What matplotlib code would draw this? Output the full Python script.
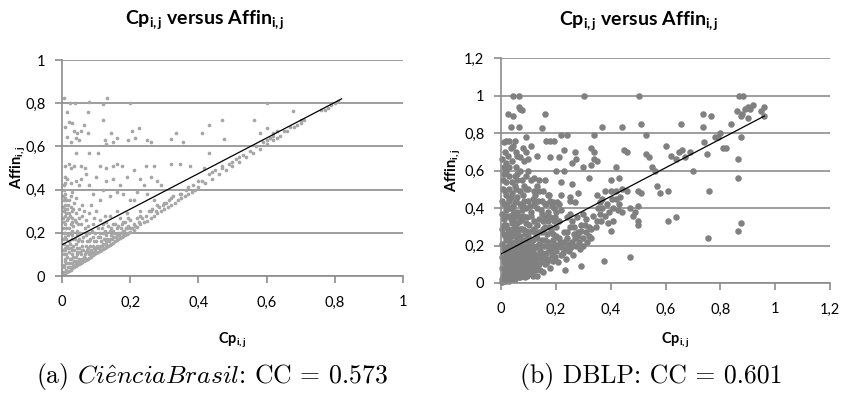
import matplotlib
matplotlib.use("Agg")
import matplotlib.pyplot as plt

plt.rcParams['font.family'] = ['Lato', 'DejaVu Sans']
plt.rcParams['mathtext.fontset'] = 'custom'
plt.rcParams['mathtext.rm'] = 'Lato'
plt.rcParams['mathtext.bf'] = 'Lato:bold'
plt.rcParams['mathtext.it'] = 'Lato:italic'

# ---------------- Data: panel (a) CiênciaBrasil ----------------
a_x = [
    0.005, 0.01, 0.012, 0.015, 0.02, 0.022, 0.025, 0.03, 0.032, 0.035, 0.04, 0.042, 0.045, 0.05, 0.052,
    0.055, 0.06, 0.065, 0.068, 0.07, 0.075, 0.08, 0.082, 0.085, 0.09, 0.095, 0.1, 0.105, 0.11, 0.115,
    0.12, 0.125, 0.13, 0.135, 0.14, 0.145, 0.15, 0.155, 0.16, 0.165, 0.17, 0.175, 0.18, 0.185, 0.19,
    0.195, 0.2, 0.21, 0.22, 0.23, 0.24, 0.25, 0.26, 0.27, 0.28, 0.29, 0.3, 0.31, 0.32, 0.33, 0.34, 0.35,
    0.36, 0.37, 0.38, 0.39, 0.4, 0.42, 0.44, 0.46, 0.48, 0.5, 0.52, 0.54, 0.56, 0.58, 0.6, 0.62, 0.64,
    0.66, 0.68, 0.7, 0.77, 0.79, 0.8, 0.81,
    0.23, 0.26, 0.28, 0.3, 0.32, 0.35, 0.37, 0.4, 0.43, 0.45, 0.47, 0.5, 0.52, 0.55, 0.57, 0.6, 0.62,
    0.65, 0.7, 0.78,
    0.005, 0.005, 0.005, 0.005, 0.01, 0.01, 0.01, 0.015, 0.015, 0.02, 0.02, 0.02, 0.02, 0.025, 0.025,
    0.03, 0.03, 0.03, 0.035, 0.035, 0.04, 0.04, 0.045, 0.045, 0.05, 0.05, 0.05, 0.055, 0.06, 0.06,
    0.065, 0.07, 0.07, 0.07, 0.075, 0.08, 0.08, 0.085, 0.09, 0.09, 0.095, 0.1, 0.1, 0.11, 0.11, 0.12,
    0.12, 0.13, 0.13, 0.14, 0.15, 0.15, 0.16, 0.17, 0.18, 0.19, 0.16, 0.14,
    0.005, 0.005, 0.005, 0.005, 0.01, 0.01, 0.01, 0.015, 0.015, 0.02, 0.02, 0.025, 0.025, 0.025, 0.03,
    0.03, 0.035, 0.04, 0.04, 0.04, 0.05, 0.05, 0.055, 0.06, 0.06, 0.065, 0.07, 0.075, 0.08, 0.085, 0.09,
    0.095, 0.1, 0.105, 0.11, 0.12, 0.125, 0.13, 0.14, 0.15, 0.16, 0.17, 0.18, 0.19, 0.2, 0.21, 0.22,
    0.23, 0.21,
    0.005, 0.01, 0.015, 0.025, 0.03, 0.04, 0.05, 0.055, 0.07, 0.08, 0.09, 0.1, 0.11, 0.12, 0.13, 0.14,
    0.15, 0.16, 0.17, 0.18, 0.19, 0.2, 0.22, 0.23, 0.24, 0.25, 0.26, 0.27, 0.28, 0.29,
    0.01, 0.02, 0.025, 0.035, 0.04, 0.055, 0.068, 0.078, 0.105, 0.11, 0.13, 0.15, 0.16, 0.175, 0.21,
    0.245, 0.27, 0.32, 0.345, 0.375, 0.43, 0.415,
    0.01, 0.015, 0.02, 0.025, 0.03, 0.035, 0.04, 0.045, 0.05, 0.055, 0.065, 0.075, 0.12, 0.125, 0.13,
    0.145, 0.15, 0.16, 0.195, 0.205, 0.215, 0.225, 0.25, 0.26, 0.32, 0.335, 0.355, 0.41, 0.43, 0.47,
    0.475, 0.563, 0.58, 0.6, 0.62, 0.63, 0.678,
    0.007, 0.015, 0.024, 0.039, 0.075, 0.08, 0.12, 0.132, 0.2, 0.6,
]
a_y = [
    0.01, 0.015, 0.03, 0.02, 0.025, 0.04, 0.03, 0.035, 0.05, 0.04, 0.045, 0.06, 0.05, 0.055, 0.07,
    0.06, 0.065, 0.07, 0.085, 0.075, 0.08, 0.085, 0.1, 0.09, 0.095, 0.1, 0.105, 0.11, 0.115, 0.12,
    0.125, 0.13, 0.135, 0.14, 0.145, 0.15, 0.155, 0.16, 0.165, 0.17, 0.175, 0.18, 0.185, 0.19, 0.195,
    0.2, 0.205, 0.215, 0.225, 0.24, 0.25, 0.255, 0.27, 0.28, 0.29, 0.3, 0.31, 0.32, 0.33, 0.34, 0.35, 0.36,
    0.37, 0.38, 0.39, 0.4, 0.41, 0.43, 0.45, 0.47, 0.49, 0.51, 0.53, 0.55, 0.57, 0.59, 0.61, 0.63, 0.65,
    0.67, 0.69, 0.71, 0.77, 0.79, 0.8, 0.81,
    0.28, 0.30, 0.33, 0.34, 0.36, 0.38, 0.41, 0.44, 0.47, 0.49, 0.51, 0.53, 0.55, 0.58, 0.6, 0.63, 0.65,
    0.67, 0.72, 0.78,
    0.05, 0.1, 0.15, 0.2, 0.07, 0.12, 0.18, 0.09, 0.14, 0.06, 0.11, 0.16, 0.22, 0.08, 0.13,
    0.1, 0.17, 0.21, 0.07, 0.12, 0.09, 0.15, 0.11, 0.19, 0.08, 0.13, 0.17, 0.1, 0.12, 0.16,
    0.09, 0.11, 0.14, 0.19, 0.13, 0.1, 0.16, 0.12, 0.14, 0.18, 0.11, 0.13, 0.16, 0.14, 0.18, 0.15,
    0.2, 0.16, 0.19, 0.17, 0.18, 0.21, 0.19, 0.2, 0.21, 0.22, 0.22, 0.21,
    0.25, 0.3, 0.35, 0.4, 0.28, 0.33, 0.38, 0.26, 0.31, 0.29, 0.35, 0.24, 0.32, 0.37, 0.27,
    0.3, 0.34, 0.25, 0.29, 0.36, 0.27, 0.31, 0.24, 0.28, 0.33, 0.3, 0.26, 0.23, 0.29, 0.33, 0.24,
    0.27, 0.3, 0.22, 0.26, 0.24, 0.28, 0.25, 0.28, 0.24, 0.3, 0.27, 0.25, 0.29, 0.26, 0.24, 0.27,
    0.3, 0.35,
    0.42, 0.46, 0.45, 0.43, 0.39, 0.44, 0.42, 0.45, 0.47, 0.42, 0.38, 0.46, 0.35, 0.4, 0.44, 0.37,
    0.45, 0.39, 0.42, 0.38, 0.46, 0.35, 0.39, 0.45, 0.42, 0.38, 0.46, 0.35, 0.44, 0.42,
    0.51, 0.52, 0.5, 0.51, 0.57, 0.51, 0.5, 0.57, 0.57, 0.51, 0.5, 0.51, 0.52, 0.51, 0.49,
    0.51, 0.51, 0.52, 0.52, 0.51, 0.57, 0.5,
    0.69, 0.645, 0.715, 0.62, 0.71, 0.67, 0.64, 0.66, 0.63, 0.67, 0.7, 0.66, 0.72, 0.63, 0.61,
    0.66, 0.62, 0.64, 0.63, 0.67, 0.64, 0.685, 0.63, 0.62, 0.635, 0.66, 0.62, 0.66, 0.7, 0.72,
    0.634, 0.72, 0.66, 0.684, 0.66, 0.64, 0.764,
    0.826, 0.76, 0.80, 0.80, 0.76, 0.807, 0.796, 0.823, 0.80, 0.80,
]
a_extra = [
    (0.003, 0.02), (0.006, 0.04), (0.008, 0.08), (0.012, 0.06), (0.018, 0.04), (0.022, 0.08),
    (0.028, 0.06), (0.033, 0.09), (0.038, 0.07), (0.043, 0.1), (0.048, 0.07), (0.053, 0.11),
    (0.058, 0.08), (0.063, 0.12), (0.068, 0.1), (0.073, 0.12), (0.078, 0.11), (0.083, 0.14),
    (0.088, 0.11), (0.093, 0.13), (0.098, 0.12), (0.103, 0.14), (0.108, 0.13), (0.113, 0.16),
    (0.118, 0.14), (0.123, 0.17), (0.128, 0.15), (0.133, 0.17), (0.138, 0.16), (0.143, 0.19),
    (0.148, 0.17), (0.153, 0.2), (0.158, 0.18), (0.163, 0.2), (0.168, 0.19), (0.173, 0.22),
    (0.178, 0.2), (0.183, 0.21), (0.188, 0.22), (0.193, 0.23), (0.198, 0.22),
    (0.003, 0.12), (0.003, 0.17), (0.003, 0.22), (0.003, 0.27), (0.003, 0.32), (0.003, 0.37),
    (0.008, 0.13), (0.008, 0.2), (0.008, 0.24), (0.008, 0.31), (0.008, 0.36), (0.008, 0.43),
    (0.013, 0.1), (0.013, 0.17), (0.013, 0.22), (0.013, 0.29), (0.013, 0.35), (0.018, 0.13),
    (0.018, 0.19), (0.018, 0.27), (0.018, 0.33), (0.023, 0.15), (0.023, 0.2), (0.023, 0.28),
    (0.028, 0.12), (0.028, 0.19), (0.028, 0.25), (0.033, 0.14), (0.033, 0.23), (0.033, 0.31),
    (0.038, 0.17), (0.038, 0.26), (0.043, 0.13), (0.043, 0.21), (0.048, 0.16), (0.048, 0.24),
    (0.053, 0.2), (0.058, 0.14), (0.063, 0.18), (0.068, 0.22), (0.073, 0.16), (0.078, 0.2),
    (0.083, 0.17), (0.088, 0.21), (0.093, 0.16), (0.098, 0.2), (0.105, 0.18), (0.112, 0.2),
    (0.118, 0.22), (0.125, 0.21), (0.135, 0.23), (0.145, 0.22), (0.155, 0.24), (0.165, 0.23),
    (0.175, 0.24), (0.185, 0.25), (0.195, 0.27), (0.205, 0.22), (0.215, 0.23), (0.225, 0.25),
    (0.235, 0.27), (0.245, 0.28), (0.255, 0.3), (0.265, 0.31), (0.275, 0.3), (0.285, 0.32),
    (0.295, 0.33), (0.305, 0.34), (0.315, 0.35), (0.325, 0.37), (0.345, 0.38), (0.365, 0.4),
    (0.385, 0.42), (0.41, 0.44), (0.44, 0.48), (0.47, 0.5), (0.49, 0.52), (0.51, 0.54),
    (0.53, 0.56), (0.59, 0.62), (0.61, 0.64), (0.63, 0.67), (0.67, 0.69), (0.69, 0.7),
    (0.71, 0.72), (0.76, 0.77),
]
a_x = a_x + [p[0] for p in a_extra]
a_y = a_y + [p[1] for p in a_extra]
a_trend_x = [0.0, 0.82]
a_trend_y = [0.145, 0.82]

# ---------------- Data: panel (b) DBLP ----------------
b_pts = [
    (0.045, 1.0), (0.067, 1.0), (0.304, 1.0), (0.504, 1.0), (0.868, 1.0), (0.884, 1.0),
    (0.027, 0.903), (0.045, 0.89), (0.065, 0.94), (0.07, 0.93), (0.075, 0.925), (0.16, 0.9),
    (0.035, 0.83), (0.065, 0.83), (0.149, 0.827), (0.09, 0.78), (0.02, 0.76), (0.03, 0.76), (0.05, 0.76),
    (0.165, 0.76), (0.18, 0.76), (0.195, 0.76), (0.22, 0.79), (0.24, 0.79), (0.11, 0.73), (0.08, 0.72),
    (0.035, 0.72), (0.055, 0.7), (0.06, 0.68), (0.1, 0.66), (0.13, 0.68), (0.18, 0.67), (0.21, 0.67),
    (0.23, 0.71), (0.27, 0.7), (0.275, 0.66), (0.26, 0.64), (0.3, 0.62), (0.23, 0.6), (0.2, 0.6),
    (0.16, 0.55), (0.22, 0.54), (0.26, 0.53), (0.02, 0.64), (0.005, 0.66), (0.01, 0.62), (0.01, 0.58),
    (0.03, 0.57), (0.05, 0.57), (0.04, 0.54), (0.02, 0.54), (0.1, 0.6), (0.07, 0.6), (0.06, 0.55),
    (0.11, 0.55), (0.12, 0.49), (0.14, 0.49), (0.155, 0.49), (0.17, 0.47), (0.16, 0.42), (0.19, 0.43),
    (0.21, 0.42), (0.22, 0.39), (0.25, 0.44), (0.27, 0.43), (0.28, 0.48), (0.32, 0.56), (0.33, 0.63),
    (0.34, 0.66), (0.35, 0.65), (0.33, 0.72), (0.34, 0.79), (0.37, 0.83), (0.34, 0.7), (0.44, 0.83),
    (0.45, 0.71), (0.46, 0.7), (0.42, 0.62), (0.43, 0.56), (0.4, 0.55), (0.38, 0.49), (0.4, 0.49),
    (0.42, 0.49), (0.46, 0.49), (0.5, 0.49), (0.51, 0.48), (0.44, 0.38), (0.47, 0.4), (0.48, 0.36),
    (0.49, 0.38), (0.5, 0.41), (0.5, 0.31), (0.5, 0.33), (0.51, 0.85), (0.53, 0.79), (0.53, 0.69),
    (0.54, 0.67), (0.55, 0.62), (0.56, 0.6), (0.57, 0.52), (0.58, 0.48), (0.6, 0.73), (0.62, 0.68),
    (0.64, 0.66), (0.65, 0.7), (0.66, 0.71), (0.67, 0.67), (0.69, 0.7), (0.7, 0.6), (0.61, 0.49),
    (0.61, 0.33), (0.64, 0.35), (0.655, 0.85), (0.735, 0.9), (0.735, 0.83), (0.74, 0.75), (0.75, 0.69),
    (0.76, 0.49), (0.755, 0.24), (0.765, 0.89), (0.78, 0.78), (0.79, 0.78), (0.8, 0.8), (0.81, 0.72),
    (0.82, 0.72), (0.84, 0.85), (0.86, 0.92), (0.865, 0.66), (0.865, 0.56), (0.865, 0.28), (0.875, 0.32),
    (0.875, 0.78), (0.875, 0.89), (0.88, 0.9), (0.89, 0.93), (0.9, 0.94), (0.91, 0.93), (0.92, 0.95),
    (0.95, 0.92), (0.96, 0.94), (0.96, 0.89), (0.9, 0.88), (0.47, 0.14), (0.375, 0.12), (0.29, 0.09),
    (0.235, 0.07), (0.13, 0.04), (0.3, 0.2), (0.32, 0.25), (0.33, 0.29), (0.35, 0.33), (0.36, 0.37),
    (0.37, 0.4), (0.38, 0.36), (0.39, 0.32), (0.4, 0.28), (0.41, 0.33), (0.42, 0.45), (0.43, 0.42),
    (0.44, 0.5), (0.36, 0.43), (0.35, 0.47), (0.3, 0.37), (0.31, 0.34), (0.29, 0.31), (0.28, 0.27),
    (0.27, 0.24), (0.26, 0.33), (0.25, 0.3), (0.24, 0.27), (0.23, 0.22), (0.22, 0.19), (0.21, 0.24),
    (0.2, 0.17), (0.2, 0.3), (0.19, 0.26), (0.18, 0.2), (0.18, 0.35), (0.17, 0.13), (0.17, 0.38),
    (0.16, 0.23), (0.16, 0.3), (0.15, 0.16), (0.15, 0.27), (0.14, 0.1), (0.14, 0.2), (0.14, 0.34),
    (0.13, 0.24), (0.13, 0.4), (0.12, 0.08), (0.12, 0.15), (0.12, 0.29), (0.11, 0.12), (0.11, 0.21),
    (0.11, 0.36), (0.1, 0.05), (0.1, 0.18), (0.1, 0.27), (0.1, 0.44), (0.09, 0.09), (0.09, 0.14),
    (0.09, 0.23), (0.09, 0.32), (0.09, 0.4), (0.08, 0.06), (0.08, 0.12), (0.08, 0.2), (0.08, 0.29),
    (0.08, 0.36), (0.08, 0.47), (0.07, 0.03), (0.07, 0.1), (0.07, 0.16), (0.07, 0.25), (0.07, 0.33),
    (0.07, 0.42), (0.06, 0.05), (0.06, 0.13), (0.06, 0.19), (0.06, 0.27), (0.06, 0.38), (0.06, 0.46),
    (0.05, 0.02), (0.05, 0.08), (0.05, 0.15), (0.05, 0.22), (0.05, 0.3), (0.05, 0.35), (0.05, 0.43),
    (0.04, 0.04), (0.04, 0.11), (0.04, 0.18), (0.04, 0.25), (0.04, 0.32), (0.04, 0.4), (0.03, 0.01),
    (0.03, 0.07), (0.03, 0.13), (0.03, 0.2), (0.03, 0.28), (0.03, 0.36), (0.03, 0.45), (0.02, 0.03),
    (0.02, 0.09), (0.02, 0.16), (0.02, 0.23), (0.02, 0.31), (0.02, 0.39), (0.02, 0.47), (0.01, 0.01),
    (0.01, 0.05), (0.01, 0.11), (0.01, 0.18), (0.01, 0.26), (0.01, 0.34), (0.01, 0.42), (0.005, 0.02),
    (0.005, 0.08), (0.005, 0.14), (0.005, 0.21), (0.005, 0.29), (0.005, 0.37), (0.005, 0.44),
    (0.015, 0.06), (0.015, 0.14), (0.025, 0.05), (0.025, 0.12), (0.035, 0.09), (0.035, 0.16),
    (0.045, 0.06), (0.045, 0.13), (0.055, 0.1), (0.055, 0.17), (0.065, 0.08), (0.065, 0.14),
    (0.075, 0.07), (0.075, 0.13), (0.085, 0.1), (0.085, 0.16), (0.095, 0.07), (0.095, 0.12),
    (0.105, 0.09), (0.105, 0.15), (0.115, 0.1), (0.125, 0.12), (0.135, 0.14), (0.145, 0.13),
    (0.155, 0.12), (0.165, 0.16), (0.175, 0.18), (0.185, 0.15), (0.195, 0.21), (0.205, 0.2),
    (0.215, 0.22), (0.225, 0.16), (0.245, 0.21), (0.255, 0.19), (0.265, 0.26), (0.285, 0.22),
    (0.24, 0.35), (0.2, 0.38), (0.15, 0.44), (0.12, 0.42), (0.22, 0.47), (0.18, 0.44), (0.25, 0.46),
]
b_extra = [
    (0.012, 0.02), (0.018, 0.07), (0.022, 0.12), (0.028, 0.17), (0.032, 0.22), (0.038, 0.27),
    (0.042, 0.33), (0.048, 0.38), (0.052, 0.04), (0.058, 0.09), (0.062, 0.15), (0.068, 0.2),
    (0.072, 0.29), (0.078, 0.34), (0.082, 0.41), (0.088, 0.03), (0.092, 0.18), (0.098, 0.25),
    (0.102, 0.31), (0.108, 0.38), (0.112, 0.06), (0.118, 0.23), (0.122, 0.33), (0.128, 0.19),
    (0.132, 0.09), (0.138, 0.27), (0.142, 0.17), (0.148, 0.37), (0.152, 0.06), (0.158, 0.2),
    (0.162, 0.1), (0.168, 0.26), (0.172, 0.33), (0.178, 0.08), (0.182, 0.28), (0.188, 0.12),
    (0.192, 0.4), (0.198, 0.14), (0.202, 0.25), (0.208, 0.11), (0.212, 0.33), (0.218, 0.15),
    (0.228, 0.27), (0.232, 0.18), (0.238, 0.13), (0.242, 0.24), (0.248, 0.17), (0.252, 0.37),
    (0.258, 0.22), (0.262, 0.15), (0.268, 0.3), (0.272, 0.2), (0.278, 0.35), (0.282, 0.25),
    (0.288, 0.18), (0.292, 0.28), (0.298, 0.24), (0.305, 0.31), (0.31, 0.27), (0.315, 0.22),
    (0.322, 0.3), (0.33, 0.24), (0.335, 0.36), (0.345, 0.3), (0.355, 0.4), (0.365, 0.33),
    (0.37, 0.45), (0.385, 0.42), (0.395, 0.38), (0.405, 0.45), (0.41, 0.4), (0.425, 0.39),
    (0.435, 0.46), (0.015, 0.25), (0.025, 0.29), (0.035, 0.34), (0.045, 0.41), (0.055, 0.44),
    (0.065, 0.36), (0.075, 0.39), (0.085, 0.44), (0.095, 0.35), (0.105, 0.41), (0.115, 0.45),
    (0.125, 0.47), (0.135, 0.44), (0.145, 0.39), (0.155, 0.33), (0.165, 0.42), (0.175, 0.47),
    (0.185, 0.41), (0.195, 0.33), (0.205, 0.43), (0.008, 0.5), (0.015, 0.49), (0.028, 0.5),
    (0.04, 0.48), (0.055, 0.5), (0.07, 0.49), (0.09, 0.5), (0.012, 0.31), (0.018, 0.36),
    (0.022, 0.41), (0.028, 0.44), (0.032, 0.4), (0.038, 0.46), (0.042, 0.37), (0.048, 0.27),
    (0.052, 0.25), (0.058, 0.32), (0.062, 0.24), (0.068, 0.29), (0.072, 0.2), (0.078, 0.23),
    (0.082, 0.15), (0.088, 0.26), (0.092, 0.28), (0.098, 0.2), (0.102, 0.22), (0.108, 0.13),
    (0.112, 0.28), (0.118, 0.17), (0.122, 0.1), (0.128, 0.26), (0.132, 0.31), (0.138, 0.21),
    (0.142, 0.07), (0.148, 0.23), (0.152, 0.29), (0.158, 0.14), (0.162, 0.35), (0.168, 0.11),
    (0.172, 0.22), (0.178, 0.3), (0.182, 0.17), (0.188, 0.23), (0.192, 0.19), (0.198, 0.35),
    (0.005, 0.005), (0.012, 0.04), (0.02, 0.01), (0.025, 0.09), (0.035, 0.03), (0.045, 0.02),
    (0.055, 0.06), (0.065, 0.03), (0.075, 0.04), (0.085, 0.06), (0.095, 0.04), (0.105, 0.06),
    (0.115, 0.04), (0.125, 0.07), (0.018, 0.19), (0.022, 0.26), (0.028, 0.24), (0.032, 0.15),
    (0.038, 0.21), (0.042, 0.29), (0.048, 0.19), (0.052, 0.12), (0.058, 0.22), (0.062, 0.09),
    (0.068, 0.12), (0.072, 0.06), (0.078, 0.18), (0.082, 0.09), (0.088, 0.2), (0.092, 0.11),
    (0.098, 0.16), (0.102, 0.1), (0.108, 0.2), (0.112, 0.16), (0.118, 0.13), (0.122, 0.19),
    (0.128, 0.15), (0.132, 0.2),
    (0.015, 0.7), (0.025, 0.68), (0.04, 0.65), (0.01, 0.75), (0.045, 0.73), (0.055, 0.62),
    (0.06, 0.58), (0.075, 0.55), (0.09, 0.57), (0.03, 0.62), (0.02, 0.6), (0.008, 0.55),
    (0.05, 0.52), (0.085, 0.52), (0.1, 0.5), (0.13, 0.52), (0.14, 0.55), (0.12, 0.56),
    (0.07, 0.67), (0.085, 0.65), (0.09, 0.7),
]
b_all = b_pts + b_extra
b_x = [p[0] for p in b_all]
b_y = [p[1] for p in b_all]
b_trend_x = [0.0, 0.96]
b_trend_y = [0.155, 0.89]

a_ticks = [0, 0.2, 0.4, 0.6, 0.8, 1]
a_ticklabels = ['0', '0,2', '0,4', '0,6', '0,8', '1']
b_ticks = [0, 0.2, 0.4, 0.6, 0.8, 1, 1.2]
b_ticklabels = ['0', '0,2', '0,4', '0,6', '0,8', '1', '1,2']

title_txt = r'Cp$_{\mathbf{i,j}}$ versus Affin$_{\mathbf{i,j}}$'
xlab = r'Cp$_{\mathbf{i,j}}$'
ylab = r'Affin$_{\mathbf{i,j}}$'
cap_a = r'(a) $\mathit{Ci\hat{e}nciaBrasil}$: CC = 0.573'
cap_b = '(b) DBLP: CC = 0.601'

W, H = 843, 399
fig = plt.figure(figsize=(W / 100, H / 100), dpi=100)

GRID = '#8c8c8c'


def px_axes(x0, x1, y0, y1):
    return fig.add_axes([x0 / W, 1 - y0 / H, (x1 - x0) / W, (y0 - y1) / H])


def style(ax, ticks, labels, lim):
    ax.set_xlim(0, lim)
    ax.set_ylim(0, lim)
    ax.set_xticks(ticks)
    ax.set_xticklabels(labels)
    ax.set_yticks(ticks)
    ax.set_yticklabels(labels)
    for s in ['top', 'right']:
        ax.spines[s].set_visible(False)
    for s in ['left', 'bottom']:
        ax.spines[s].set_color(GRID)
        ax.spines[s].set_linewidth(1.2)
    ax.yaxis.grid(True, color=GRID, linewidth=1.2)
    ax.set_axisbelow(True)
    ax.tick_params(axis='both', colors=GRID, labelcolor='black', labelsize=10.5,
                   length=5, width=1.2, direction='out')
    ax.tick_params(axis='x', pad=9)
    ax.tick_params(axis='y', pad=7)


# Panel (a)
axa = px_axes(62, 403, 276, 60)
style(axa, a_ticks, a_ticklabels, 1.0)
axa.scatter(a_x, a_y, s=7, color='#a6a6a6', linewidths=0, zorder=2, clip_on=False)
axa.plot(a_trend_x, a_trend_y, color='black', linewidth=0.9, zorder=3)

# Panel (b)
axb = px_axes(501, 830, 283, 58)
style(axb, b_ticks, b_ticklabels, 1.2)
axb.scatter(b_x, b_y, s=22, color='#808080', linewidths=0, zorder=2, clip_on=False)
axb.plot(b_trend_x, b_trend_y, color='black', linewidth=0.9, zorder=3)


def ftext(x, y, s, **kw):
    fig.text(x / W, 1 - y / H, s, **kw)


ftext(205, 20, title_txt, fontsize=14, fontweight='bold', ha='center', va='center')
ftext(639, 21, title_txt, fontsize=14, fontweight='bold', ha='center', va='center')
ftext(232, 340, xlab, fontsize=10.5, fontweight='bold', ha='center', va='center')
ftext(675, 340, xlab, fontsize=10.5, fontweight='bold', ha='center', va='center')
ftext(18, 167, ylab, fontsize=10.5, fontweight='bold', ha='center', va='center', rotation=90)
ftext(453, 170, ylab, fontsize=10.5, fontweight='bold', ha='center', va='center', rotation=90)

# Captions (Computer Modern)
ftext(212, 377, cap_a, fontsize=18.5, ha='center', va='center',
      fontfamily='cmr10', math_fontfamily='cm')
ftext(651, 377, cap_b, fontsize=18.5, ha='center', va='center',
      fontfamily='cmr10', math_fontfamily='cm')

fig.savefig('out.png', dpi=100, facecolor='white')
